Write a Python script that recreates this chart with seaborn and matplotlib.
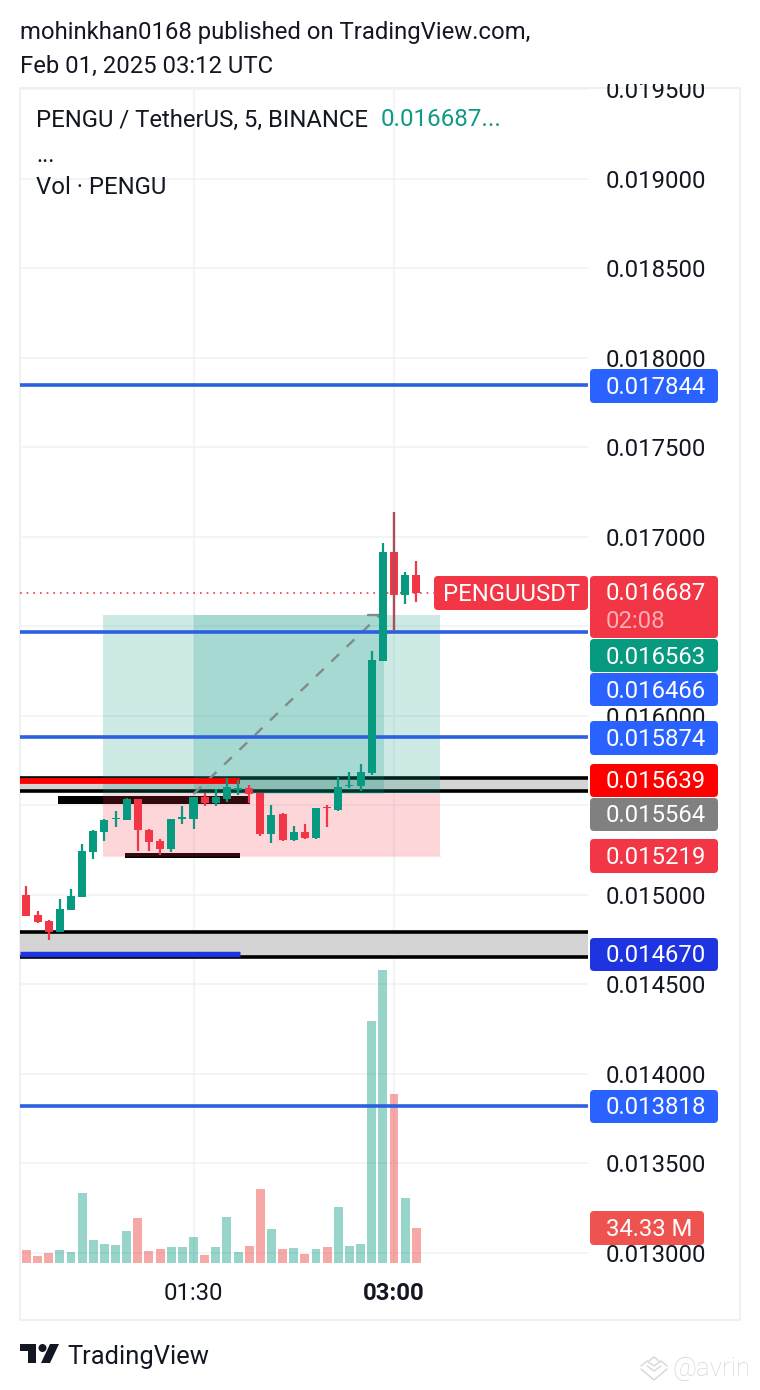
import numpy as np
import pandas as pd
import seaborn as sns
import matplotlib
matplotlib.use("Agg")
import matplotlib.pyplot as plt
from matplotlib.patches import FancyBboxPatch, Polygon, Circle, Rectangle
from matplotlib.transforms import Affine2D, Bbox, TransformedBbox, IdentityTransform
from matplotlib.lines import Line2D

# ---------- data ----------
opens = [0.015000,0.014888,0.014855,0.014793,0.014916,0.014989,0.015240,0.015352,0.015425,0.015419,
         0.015536,0.015363,0.015302,0.015257,0.015425,0.015425,0.015547,0.015514,0.015536,0.015587,
         0.015598,0.015570,0.015341,0.015453,0.015307,0.015352,0.015318,0.015492,0.015475,0.015609,
         0.015609,0.015682,0.016307,0.016916,0.016676,0.016788]
highs = [0.015050,0.014911,0.014860,0.014978,0.015034,0.015285,0.015363,0.015425,0.015469,0.015542,
         0.015536,0.015369,0.015313,0.015425,0.015497,0.015547,0.015570,0.015592,0.015654,0.015642,
         0.015614,0.015570,0.015503,0.015458,0.015386,0.015397,0.015486,0.015503,0.015659,0.015687,
         0.015732,0.016363,0.016966,0.017140,0.016804,0.016866]
lows =  [0.014883,0.014843,0.014749,0.014793,0.014916,0.014989,0.015201,0.015302,0.015380,0.015419,
         0.015246,0.015246,0.015223,0.015240,0.015397,0.015369,0.015497,0.015497,0.015520,0.015559,
         0.015514,0.015330,0.015291,0.015302,0.015302,0.015313,0.015313,0.015380,0.015469,0.015598,
         0.015581,0.015670,0.016307,0.016475,0.016626,0.016637]
closes = [0.014883,0.014849,0.014793,0.014922,0.014994,0.015246,0.015358,0.015419,0.015430,0.015536,
          0.015363,0.015296,0.015257,0.015425,0.015436,0.015547,0.015514,0.015547,0.015603,0.015598,
          0.015564,0.015341,0.015447,0.015307,0.015352,0.015318,0.015486,0.015486,0.015603,0.015614,
          0.015687,0.016313,0.016916,0.016676,0.016788,0.016687]
volumes = [12.5,6.6,9.5,12.5,10.5,68.4,22.3,18.3,17.4,31.1,43.9,11.5,13.4,15.4,15.4,25.2,7.6,15.4,
           44.8,10.5,16.4,72.3,33.1,13.4,14.4,8.5,13.4,15.4,54.6,16.4,18.3,237.4,287.4,165.8,63.5,34.33]
y_ticks = [0.013,0.0135,0.014,0.0145,0.015,0.0155,0.016,0.0165,0.017,0.0175,0.018,0.0185,0.019,0.0195]
hidden_tick_labels = [0.0155, 0.0165]
time_ticks = [15, 33]
time_labels = ["01:30", "03:00"]
blue_levels = [0.017844, 0.016466, 0.015874, 0.013818]
last_price = 0.016687
target, entry, stop = 0.016563, 0.015564, 0.015219
zone_a = (0.015581, 0.015654)
zone_b = (0.014651, 0.014796)
red_level, navy_level = 0.015639, 0.014670
black_bar_a = (0.015510, 0.015555)
black_bar_b = (0.015205, 0.015232)

GREEN, RED = "#089981", "#F23645"
BLUE = "#2962FF"

# ---------- figure ----------
sns.set_theme(style="white")
plt.rcParams["font.family"] = ["Roboto", "DejaVu Sans"]
W, H = 760, 1390
fig = plt.figure(figsize=(W/100, H/100), dpi=100, facecolor="white")
PX = Affine2D().scale(1, -1).translate(0, H)   # layout helper: image pixels, y down

L, R, T, B = 20, 588, 88, 1274
ax = fig.add_axes([L/W, 1-B/H, (R-L)/W, (B-T)/H])
ax2 = ax.twinx()
ax.set_zorder(3); ax2.set_zorder(2)
ax.patch.set_visible(False)

x0, dx = 26.4, 11.14
xlim = ((L-x0)/dx, (R-x0)/dx)
ylim = (0.020-B*5.5866e-6, 0.020-T*5.5866e-6)

# volume pane
idx = np.arange(len(volumes))
df = pd.DataFrame({"i": idx, "vol": volumes,
                   "dir": ["up" if c >= o else "down" for o, c in zip(opens, closes)]})
sns.barplot(data=df, x="i", y="vol", hue="dir", palette={"up": "#089981", "down": "#EF5350"},
            native_scale=True, dodge=False, width=0.8, saturation=1, linewidth=0,
            legend=False, ax=ax2, zorder=2)
for p in ax2.patches:
    p.set_alpha(0.5 if p.get_facecolor()[0] > 0.5 else 0.42)
k = 0.981
ax2.set_ylim(-(B-1263)*k, (1263-T)*k)
ax2.set_yticks([]); ax2.set_xlabel(""); ax2.set_ylabel("")

# main axis
ax.set_xlim(*xlim); ax.set_ylim(*ylim)
ax2.set_xlim(*xlim)
ax.yaxis.tick_right()
ax.set_yticks(y_ticks)
ax.set_yticklabels(["" if t in hidden_tick_labels else f"{t:.6f}" for t in y_ticks],
                   fontsize=17.2, color="#131722")
ax.set_xticks(time_ticks)
ax.set_xticklabels(time_labels, fontsize=17.2, color="#131722")
ax.get_xticklabels()[1].set_fontweight("bold")
ax.tick_params(axis="y", length=0, pad=13)
ax.tick_params(axis="x", length=0, pad=6)
ax.grid(False); ax2.grid(False)
for s in list(ax.spines.values()) + list(ax2.spines.values()):
    s.set_visible(False)
clip = TransformedBbox(Bbox([[0, H-1330], [W, H-84]]), IdentityTransform())
for lab in ax.get_yticklabels():
    lab.set_clip_box(clip)
    lab.set_clip_on(True)

# grid sits in the lower pane, behind the translucent volume bars
for t in y_ticks:
    ax2.plot(xlim, [t, t], transform=ax.transData, color="#F0F1F4", lw=1.1, zorder=0)
for t in time_ticks:
    ax2.plot([t, t], [0, ax2.get_ylim()[1]], color="#F0F1F4", lw=1.1, zorder=0)

# zones under the position box
for lo, hi in (zone_a, zone_b):
    ax.axhspan(lo, hi, color="#D4D4D4", lw=0, zorder=1.0)
    ax.axhline(lo, color="black", lw=2.6, zorder=1.1)
    ax.axhline(hi, color="black", lw=2.6, zorder=1.1)
i_a = ((58-x0)/dx, (250-x0)/dx)
i_b = ((125-x0)/dx, (240-x0)/dx)
ax.fill_between(i_a, *black_bar_a, color="black", lw=0, zorder=1.2)
ax.fill_between(i_b, *black_bar_b, color="black", lw=0, zorder=1.2)

# long position tool
pos = ((103-x0)/dx, (440-x0)/dx)
act = (15.0, (384-x0)/dx)
ax.fill_between(pos, entry, target, color=GREEN, alpha=0.2, lw=0, zorder=2.0)
ax.fill_between(pos, stop, entry, color=RED, alpha=0.2, lw=0, zorder=2.0)
ax.fill_between(act, entry, target, color=GREEN, alpha=0.2, lw=0, zorder=2.1)
ax.plot([act[0], act[1]-0.4], [entry, target], color="#7F8C8A", lw=1.7, ls=(0, (4.5, 4.5)), zorder=2.2)
ax.plot([act[1]-1.4, act[1]-0.4], [target, target], color="#7F8C8A", lw=1.7, zorder=2.2)
ax.plot(pos, [stop, stop], color=RED, alpha=0.12, lw=1, zorder=2.2)

# levels (small upward nudge to land on the same pixel row as the reference)
for lv in blue_levels:
    ax.axhline(lv + 6e-6, color="#2B60E0", lw=2.6, zorder=2.5)
ax.plot([xlim[0], (240-x0)/dx], [red_level]*2, color="#FF0000", lw=4.2, solid_capstyle="butt", zorder=2.6)
ax.plot([xlim[0], (240-x0)/dx], [navy_level]*2, color="#1E34E0", lw=3.9, solid_capstyle="butt", zorder=2.6)
ax.plot([xlim[0], (434-x0)/dx], [last_price]*2, color=RED, lw=1.2, ls=(0, (1, 3)), zorder=2.6)

# candles
cols = [GREEN if c >= o else RED for o, c in zip(opens, closes)]
ax.vlines(idx, lows, highs, colors=cols, lw=1.6, zorder=3)
b = np.minimum(opens, closes); h = np.maximum(np.abs(np.array(closes)-np.array(opens)), 5.6e-6)
ax.bar(idx, h, bottom=b, width=0.72, color=cols, lw=0, zorder=3.1)
ax.vlines([33], [lows[33]], [highs[33]], colors="#A6525A", lw=1.6, zorder=3.2)

# chart frame
fig.add_artist(Rectangle((20, 88), 720, 1232, transform=PX, fill=False, ec="#EEF0F3", lw=1.4, zorder=1))

# price labels
def tag(x1, x2, y1, y2, color, text, tx=606, tc="white", z=10, size=17.2, ty=None):
    fig.add_artist(FancyBboxPatch((x1, y1), x2-x1, y2-y1, boxstyle="round,pad=0,rounding_size=4",
                                  transform=PX, fc=color, ec="none", zorder=z))
    fig.text(tx, (y1+y2)/2+1.5 if ty is None else ty, text, transform=PX, color=tc, fontsize=size,
             va="center", ha="left", zorder=z+1)

tag(590, 718, 369, 403, BLUE, f"{blue_levels[0]:.6f}")
tag(434, 588, 576, 610, RED, "PENGUUSDT", tx=443)
tag(590, 718, 576, 638, RED, f"{last_price:.6f}", ty=594)
fig.text(606, 622, "02:08", transform=PX, color="#FBAEB5", fontsize=17.2, va="center", zorder=12)
tag(590, 718, 639, 672, GREEN, f"{target:.6f}")
tag(590, 718, 673, 706, BLUE, f"{blue_levels[1]:.6f}")
tag(590, 718, 721, 755, BLUE, f"{blue_levels[2]:.6f}")
tag(590, 718, 764, 797, "#FF0000", f"{red_level:.6f}")
tag(590, 718, 798, 831, "#808080", f"{entry:.6f}")
tag(590, 718, 839, 873, RED, f"{stop:.6f}")
tag(590, 718, 938, 971, "#1E34E0", f"{navy_level:.6f}")
tag(590, 718, 1090, 1123, BLUE, f"{blue_levels[3]:.6f}")
tag(590, 704, 1211, 1245, "#EF5350", f"{volumes[-1]:.2f} M")

# header text
fig.text(20, 32, "mohinkhan0168 published on TradingView.com,", transform=PX, fontsize=17.2, color="#131722", va="center")
fig.text(20, 66, "Feb 01, 2025 03:12 UTC", transform=PX, fontsize=17.2, color="#131722", va="center")
fig.text(36, 120, "PENGU / TetherUS, 5, BINANCE", transform=PX, fontsize=17.2, color="#131722", va="center", zorder=12)
fig.text(381, 120, "0.016687...", transform=PX, fontsize=17.4, color="#0E9B86", va="center", zorder=12)
fig.text(36, 156, "...", transform=PX, fontsize=17.2, color="#131722", va="center", zorder=12)
fig.text(36, 188, "Vol · PENGU", transform=PX, fontsize=17.2, color="#131722", va="center", zorder=12)

# footer logo and wordmark
fig.add_artist(Polygon([(20, 1344), (36, 1344), (36, 1363), (28, 1363), (28, 1351), (20, 1351)],
                       closed=True, transform=PX, fc="#131722", ec="none"))
fig.add_artist(Circle((42.5, 1348), 4, transform=PX, fc="#131722", ec="none"))
fig.add_artist(Polygon([(50, 1344), (59, 1344), (50, 1363), (41, 1363)], closed=True, transform=PX, fc="#131722", ec="none"))
fig.text(67, 1357, "TradingView", transform=PX, fontsize=18.4, color="#131722", va="center")

# watermark
for pts in ([(641, 1369), (654, 1380), (667, 1369)], [(647, 1366), (654, 1371), (661, 1366)],
            [(641, 1366), (647, 1361), (654, 1366), (661, 1361), (667, 1366)], [(649, 1361), (654, 1357), (659, 1361)]):
    xs, ys = zip(*pts)
    fig.add_artist(Line2D(xs, ys, transform=PX, color="#D6D6D6", lw=1))
fig.text(672, 1369, "@avrin", transform=PX, fontsize=18.6, color="#D6D6D6", va="center", fontweight="light")

fig.savefig("out.png", dpi=100, facecolor="white")
